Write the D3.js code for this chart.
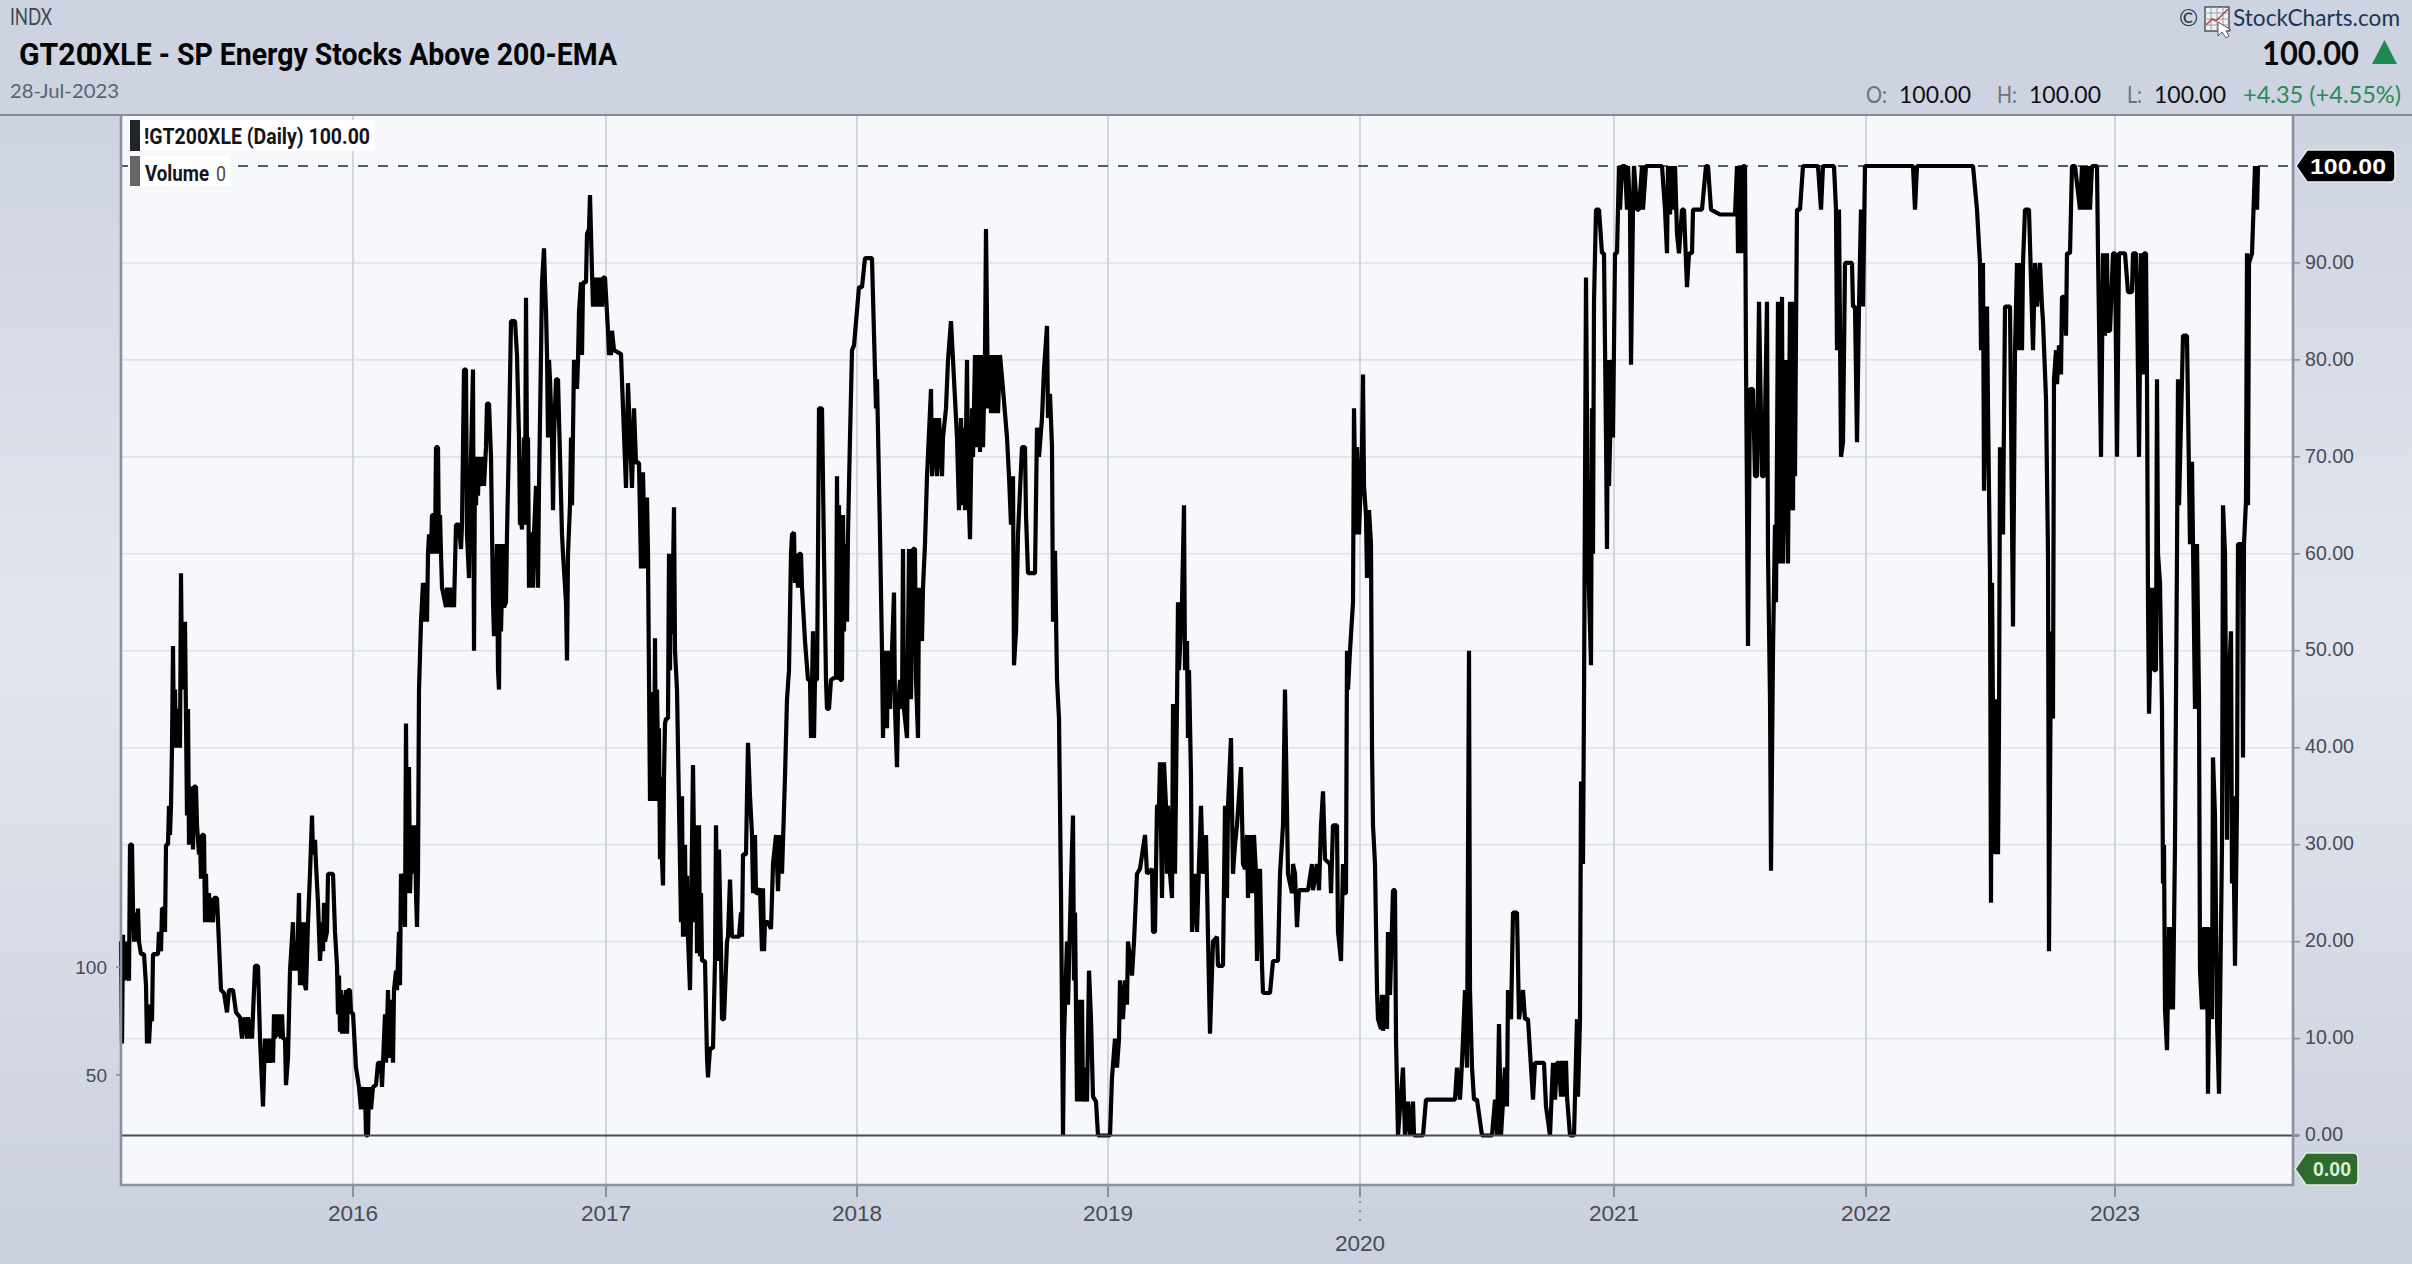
<!DOCTYPE html>
<html><head><meta charset="utf-8">
<script src="https://cdn.jsdelivr.net/npm/d3@7"></script>
<style>html,body{margin:0;padding:0;background:#cdd3e0}svg{display:block}</style>
</head><body><svg id="c" width="2412" height="1264"></svg>
<script>
// Trading-day index (1 bar per day from the first bar), percent above 200-EMA — flat [day, pct, ...]
const seg2015a=[0,20,1,9.5,2,20.7,3,16,5,20,6,16.4,8,16,9,30,11,30,12,23.4,13,20,14,23,16,20,17,23.4,18,20,20,18.7,23,18.7,25,15.5,26,9.5,27,13.5,28,9.5,30,13.5,31,11.8,32,18.7,35,18.7,37,18.7,38,21,40,19,41,23.4,43,23.4,44,21,45,30,47,30,48,34,49,31,50,34,51,40,52,50.5,53,40,54,46,55,40,56,44,57,40,58,44,59,40,60,58,61,47,62,53,63,46,64,53,66,33,67,44,68,30,69,36,70,30,71,36,72,29.5,73,36,75,36,76,32,78,29,79,31,80,26.5,81,31,83,31,84,22,85,27,86,22,88,25,89,22,90,24.5,92,22,93,24.5,96,24.5,100,15,103,14.7,106,12.7,108,15,112,15,115,12.7,119,12.2,121,10,122,12,124,12,126,10,127,12.2,129,10,130,12,131,10,133,15,134,17.5,137,17.5,139,10,142,3,144,10,146,7.5,147,10,149,7.5,151,10,152,7.5,153,12.5,154,10,155,12.5,157,10.2,158,12.5,160,10,161,12.5,162,10,164,10,165,5.2,167,8,169,17];
const seg2015b=[172,22,173,17,175,20,176,17,178,25,179,15.5,180,22,181,15.5,183,22,184,15.5,185,15,187,22,189,27,191,33,192,29,194,30.5,195,28,197,24,199,18,201,22,202,19,203,24,204,20,206,21,207,27,212,27,214,21,216,17.5,217,12.5,218,16.5,219,10.7,220,15,221,10.5,222,14.5,223,10.5,225,15,226,10.5,227,15,229,15,230,12.7,232,12.6,235,7,238,5,240,2.7,241,5,243,2.7,244,5,245,0,247,0,248,5,250,2.7,252,5,255,5.2,257,7.5,260,7.5,261,5,262,7.5,264,12.5,265,7.5,267,15,268,8,270,14,272,7.5,273,15,275,17,276,15,278,21,279,15.5,280,27,283,25,284,21.5,285,42.5,286,25,288,38,289,25,291,32,292,27,294,32,295,25,296,21.5,297,27,298,46,300,53,302,57,303,53,305,57,306,53,307,60,308,62,310,60,311,64,313,64,314,60,315,71,317,71,318,60,319,64,320,60,321,56.5,323,55.5,325,54.5,326,56.5,327,54.5,329,56.5,330,54.5,332,56,333,54.5,335,63,338,63,340,60.5,341,63,343,79,345,79,346,62,348,57.5,350,70,352,79,353,50,354,70,355,65,356,70,357,66,358,70,359,67,362,70,363,67,365,71,366,75.5,368,75.5,370,70,372,55,373,51.5,374,53,376,61,377,48,378,46,379,61,380,52,382,61,383,54.5,385,55,386,62,388,72,390,84,394,84,396,80.5,398,72,399,63,400,63.5,401,62.5,403,72,404,63,405,86.4,406,70,407,72,408,56.5,409,62,411,62,412,56.5,413,62,415,67,416,62,417,56.5,418,67,420,80.5,421,88,423,91.5,424,88,425,85,426,80.5,427,72,428,80,429,78,431,72,432,64.5,433,72,435,78,437,78,439,70,441,62,442,60,445,55,446,49,447,60,449,65,450,72,451,65,453,80,454,77,455,80,456,77,457,80,458,85,460,88,461,80.5,462,88,465,88,466,93,468,93.5,469,97,470,93,471,89,472,85.5,474,88.5,475,85.5,476,88,477,85.5,478,88.5,479,85.5,480,88.5,481,85.5,482,88.5,484,88.5,487,83,488,80.5,489,83,490,80.5,491,83,493,81];
const seg2017=[500,80.6,505,66.8,507,77.6,511,66.8,513,75,515,69.4,518,69.4,520,58.5,522,68.4,524,58.5,526,65.8,527,60,529,34.5,530,45.7,532,45,533,34.5,534,51.3,535,34.5,536,46,537,39,538,42,539,28.5,540,37,541,28.5,542,25.8,543,37,544,42.5,545,43,547,43,548,60,549,48,550,60,551,51.7,553,64.8,554,50,556,46,558,34,560,22,561,35,562,20.5,563,26,564,30,565,20.5,566,26.8,567,20.5,569,15,570,22,572,38.2,574,22,575,32,576,18.8,578,32,579,18.5,580,25,581,18,584,18,586,8,587,6,589,9,592,9,594,18,595,32,597,18,598,29.5,600,19,601,12,603,12,606,20,607,20.5,609,26.4,611,20.5,618,20.5,620,23,621,20.5,622,29,625,29,626,35,627,40.5,629,35,631,31,632,25,634,31,635,25,637,25,639,25.5,641,19,642,25.5,643,19,644,22,647,22,650,21.3,652,28,655,31,657,25.2,659,31,661,27,664,37,666,45,668,48,670,60,671,62,673,62.2,674,57,675,60,677,56.5,678,60,680,60,681,56.5,684,51,687,47,689,47,690,41,692,52,693,41,694,47,696,47,697,60,698,75,701,75,703,60,705,47,706,44,708,44,710,47,715,47.3,716,68,717,47,718,65,719,47,721,47,722,64,723,52,724,61,726,53,727,62,729,72,731,81,733,81.5];
const seg2018=[738,87.5,741,87.5,744,90.5,751,90.5,752,86.5,755,75,756,78,759,62,761,50,762,41,764,50,766,42,767,50,769,44,771,50,773,56,774,44,776,38,777,44,779,47,781,44,782,60.5,783,44,786,41,788,60.5,790,45,792,60.5,794,60.5,795,47,797,41,798,56.5,801,51,802,56.5,804,61,806,68,810,77,811,68,814,74,816,68,818,74,821,68,822,72,825,75,827,80,830,84,832,80,836,72,838,64.5,840,74,842,65,843,73,844,64.5,846,80,847,68,849,61.5,851,75,852,70,854,80.5,856,71,857,80.5,859,70.5,861,80.5,862,71,864,80.5,865,93.5,867,75,869,80.5,870,74.5,872,80.5,874,74.5,876,80.5,877,74.5,879,80.5,882,77,886,72,888,68,890,63,892,68,893,48.5,895,52,897,62,901,71,904,71,905,64,907,58,914,58,916,73,918,70,921,74,923,79,926,83.5,927,74,929,76.5,931,71,932,53,934,60.3,936,47,938,43,940,25,942,0,943,10,946,20,947,13.5,950,26,952,33,953,16,954,23,956,3.5,957,14,959,3.5,961,14,962,3.5,964,7,966,3.5,968,17,970,12,972,4,975,3.5,977,0];
const seg2019=[989,0,991,6,994,10,996,7,998,10,999,16,1002,12,1004,16,1006,13.5,1007,20,1011,16.5,1013,20,1016,27,1019,27.5,1024,31,1026,27,1031,27.5,1032,21,1034,21,1036,34,1038,34,1039,38.5,1041,24.5,1043,38.5,1045,34,1046,27,1047,34,1049,27,1051,24.5,1052,44.5,1054,27,1056,44.5,1057,55,1058,48,1061,55,1063,65,1064,48,1066,51,1067,41,1068,48,1070,37,1071,21,1074,27,1076,21,1078,28,1080,34,1082,27,1085,31,1086,26,1087,20.5,1089,10.5,1092,20,1096,20.5,1097,17.5,1102,17.5,1104,34,1106,24.5,1107,34,1110,41,1112,27,1114,30,1116,32,1120,38,1122,28,1124,27.5,1126,31,1127,24.5,1129,31,1131,25,1133,31,1135,27,1136,18,1139,27.5,1141,17.5,1142,14.7,1149,14.7,1152,18,1157,18,1159,27,1162,32,1164,46,1167,27,1171,25,1172,28,1174,27,1176,21.5,1178,25.3,1187,25.3,1191,28,1192,25.3,1196,28,1198,25.3,1200,32,1202,35.5,1204,28.5,1209,28,1210,25,1212,32,1216,32,1217,21,1220,18,1222,28,1223,25,1225,25,1226,50,1227,46,1229,50,1232,55,1233,75,1235,62,1236,71,1238,62,1241,71,1242,78.5,1243,67,1245,64,1246,57.5,1248,64.5,1250,61];
const seg2020=[1251,40,1252,32,1254,28,1256,15,1257,12,1260,11,1261,14.5,1262,10.8,1264,14.5,1266,11,1267,21,1269,14.5,1272,25.3,1274,25.3,1275,10,1277,0,1282,7,1284,0,1287,3.5,1289,0,1292,3.5,1293,0,1302,0,1305,3.7,1334,3.7,1336,7,1339,3.7,1341,7.5,1344,15,1346,7,1348,50,1349,15,1351,7,1353,3.7,1356,3.7,1361,0,1371,0,1374,3.7,1376,0,1378,11.5,1380,0,1384,7,1386,3,1387,15,1390,12,1392,23,1396,23,1398,12,1402,15,1404,12,1407,12,1412,3.7,1414,7.5,1419,7.5,1423,7.5,1425,3,1429,0,1432,7.5,1434,3.7,1436,7.5,1438,7.5,1440,4,1441,7.7,1443,4,1445,7.7,1446,4,1449,0,1453,0,1456,12,1457,4,1459,12,1460,36.5,1462,28,1463,45,1465,88.5,1467,60,1470,48.5,1471,75,1472,60,1473,86,1475,95.5,1478,95.5,1481,91,1483,91,1485,72,1486,60.5,1487,80,1488,67,1491,80,1492,72];
const seg2021=[1494,91,1496,91,1498,100,1499,95.5,1501,100,1504,100,1506,95.5,1507,100,1509,95.5,1510,79.5,1512,95.5,1513,100,1516,95.5,1518,95.5,1521,100,1522,95.5,1525,100,1541,100,1544,95.5,1546,91,1547,100,1549,95,1551,100,1553,95.5,1554,100,1556,93,1558,91,1561,95.5,1563,95.5,1566,87.5,1568,91,1571,91,1572,95.5,1581,95.5,1585,100,1587,100,1590,95.5,1599,95,1614,95,1616,100,1617,91,1619,100,1621,91,1622,100,1624,100,1625,80,1627,50.5,1629,77,1632,77,1634,68,1636,68,1638,86,1641,68,1643,68,1646,86,1647,60,1649,45,1650,27.3,1652,50,1654,63,1655,55,1657,86,1659,59,1661,86.5,1662,59,1665,80,1667,59,1669,86,1671,65,1672,64.5,1673,86,1674,68,1675,83,1676,95.5,1679,95.5,1682,100,1697,100,1700,95.5,1702,100,1713,100,1715,95.5,1716,81,1718,95.5,1720,70,1722,71.5,1724,90,1731,90,1732,85.5,1734,85.5,1736,71.5,1738,85.5,1740,95.5,1742,85.5];
const seg2022=[1744,100,1792,100,1794,95.5,1796,100,1852,100,1856,95.5,1859,90,1860,81,1862,90,1863,66.5,1866,85.5,1867,75,1869,58,1870,24,1871,57,1873,29,1874,45,1875,29,1876,43,1877,29,1878,42,1879,71,1882,62,1884,85.5,1889,85.5,1892,52.5,1894,81,1896,90,1897,81,1899,90,1901,81,1902,90,1904,95.5,1908,95.5,1912,81,1914,90,1916,85.5,1919,90,1921,85.5,1922,84,1925,76,1927,60,1928,19,1930,52,1932,43,1933,78,1935,81,1936,77.5,1938,81.5,1940,78.5,1941,86.5,1944,86.5,1945,82.5,1946,91,1949,91,1951,100,1954,100,1959,95.5,1961,100,1962,95.5,1964,100,1966,95.5,1967,100,1969,95.5,1971,100,1976,100,1977,91,1980,70,1982,91,1984,82.5,1986,91,1987,83,1989,83,1992,91];
const seg2023=[1994,91,1996,70,1998,91,2004,91,2007,87,2011,87,2012,91,2015,91,2016,87,2018,70,2020,91,2021,81,2022,78.5,2023,91,2025,91,2026,78,2027,55,2028,43.5,2031,56.5,2033,48,2035,48,2036,78,2037,60,2039,57,2041,44,2042,26,2043,30,2044,13,2046,8.8,2048,21.5,2049,13,2051,21.5,2052,13,2054,30,2056,60,2057,78,2058,65,2061,78,2062,82.5,2066,82.5,2069,61,2071,69.5,2072,61,2073,52,2074,44,2076,61,2078,45,2079,17,2081,13,2082,21.5,2084,13,2086,21.5,2087,4.3,2089,21.5,2091,12,2092,39,2094,33,2096,12,2098,4.3,2101,30,2102,65,2104,60,2106,30.5,2107,45,2110,52,2111,26,2112,35,2114,17.5,2116,34,2117,61,2121,61,2122,39,2123,61,2125,65.5,2126,91,2127,65,2128,90,2131,91,2134,100,2136,95.5,2137,100];

const yearLabels=["2016","2017","2018","2019","2020","2021","2022","2023"];
const yearDays=[232,485,736,987,1239,1493,1745,1994];
const pctTicks=[0,10,20,30,40,50,60,70,80,90];
const volumeTicks=[50,100];
const lastClose=100;
const ohlcLabels=["O:","H:","L:"];
const ohlcValues=["100.00","100.00","100.00"];

const segments=[seg2015a,seg2015b,seg2017,seg2018,seg2019,seg2020,seg2021,seg2022,seg2023];
const series=[];
segments.forEach(s=>{for(let i=0;i<s.length;i+=2)series.push([s[i],s[i+1]]);});

const W=2412,H=1264,L=121,R=2293,T=116,B=1185;
const x=d3.scaleLinear().domain([0,2172]).range([L,R]);
const y=d3.scaleLinear().domain([0,100]).range([1135.5,166]);
// The overlaid volume scale on the left axis
const yVol=d3.scaleLinear().domain([50,100]).range([1075,967]);

const svg=d3.select("#c");
const defs=svg.append("defs");
const bg=defs.append("linearGradient").attr("id","bg").attr("x1",0).attr("x2",0).attr("y1",0).attr("y2",1);
[[0,"#cdd3e0"],[0.09,"#cdd3e0"],[0.5,"#e3e6ee"],[1,"#cad0dd"]].forEach(([o,c])=>bg.append("stop").attr("offset",o).attr("stop-color",c));
defs.append("filter").attr("id","soft").attr("x","-1%").attr("y","-1%").attr("width","102%").attr("height","102%").append("feGaussianBlur").attr("stdDeviation",0.45);
svg.append("rect").attr("width",W).attr("height",H).attr("fill","url(#bg)");
svg.append("rect").attr("width",W).attr("height",T).attr("fill","#cdd3e0");
svg.append("rect").attr("x",L).attr("y",T).attr("width",R-L).attr("height",B-T).attr("fill","#f6f8fc");

// grid
const grid=svg.append("g");
grid.selectAll("line.h").data(pctTicks.filter(d=>d>0)).join("line").attr("class","h")
 .attr("x1",L).attr("x2",R).attr("y1",d=>y(d)).attr("y2",d=>y(d)).attr("stroke","#dfe2e8").attr("stroke-width",1.6);
grid.selectAll("line.v").data(yearDays).join("line").attr("class","v")
 .attr("x1",d=>x(d)).attr("x2",d=>x(d)).attr("y1",T).attr("y2",B).attr("stroke","#d3d6de").attr("stroke-width",2);
svg.append("line").attr("x1",L).attr("x2",R).attr("y1",166).attr("y2",166).attr("stroke","#555b66").attr("stroke-width",1.8).attr("stroke-dasharray","10 10").attr("stroke-dashoffset",3);

// line
const line=d3.line().x(d=>x(d[0])).y(d=>y(d[1]));
svg.append("path").attr("d",line(series)).attr("fill","none").attr("stroke","#050505").attr("stroke-width",4.2).attr("stroke-linejoin","bevel").attr("filter","url(#soft)");

// zero line + frame
svg.append("line").attr("x1",L).attr("x2",R+6).attr("y1",y(0)).attr("y2",y(0)).attr("stroke","#474c58").attr("stroke-width",2.2);
const frame="#8b90a2";
svg.append("path").attr("d",`M${L} ${T}V${B}H${R}V${T}`).attr("fill","none").attr("stroke",frame).attr("stroke-width",2.6);
svg.append("line").attr("x1",0).attr("x2",W).attr("y1",115).attr("y2",115).attr("stroke","#868b97").attr("stroke-width",2.2);

const axisColor="#474c58";
const font="'Liberation Sans',Arial,sans-serif";
// right axis
const right=svg.append("g").attr("font-family",font).attr("font-size",20).attr("fill",axisColor);
right.selectAll("text").data(pctTicks).join("text").attr("x",2305).attr("y",d=>y(d)-1.5).attr("dy",".36em").attr("textLength",d=>d===0?38:49).attr("lengthAdjust","spacingAndGlyphs").text(d=>d.toFixed(2));
svg.append("g").selectAll("line").data(pctTicks).join("line").attr("x1",R).attr("x2",R+7).attr("y1",d=>y(d)).attr("y2",d=>y(d)).attr("stroke",frame).attr("stroke-width",1.6);
// left volume axis
const left=svg.append("g").attr("font-family",font).attr("font-size",19).attr("fill",axisColor);
left.selectAll("text").data(volumeTicks).join("text").attr("x",107).attr("text-anchor","end").attr("y",d=>yVol(d)).attr("dy",".36em").text(d=>d);
svg.append("g").selectAll("line").data(volumeTicks).join("line").attr("x1",L-5).attr("x2",L).attr("y1",d=>yVol(d)).attr("y2",d=>yVol(d)).attr("stroke",frame).attr("stroke-width",1.6);
// x axis
const xg=svg.append("g").attr("font-family",font).attr("font-size",22.5).attr("fill",axisColor);
xg.selectAll("text").data(yearLabels).join("text").attr("text-anchor","middle")
 .attr("x",(d,i)=>x(yearDays[i])).attr("y",d=>d==="2020"?1251:1221).text(d=>d);
svg.append("g").selectAll("line").data(yearDays).join("line").attr("x1",d=>x(d)).attr("x2",d=>x(d)).attr("y1",B).attr("y2",B+12).attr("stroke",frame).attr("stroke-width",2);
svg.append("line").attr("x1",x(1239)).attr("x2",x(1239)).attr("y1",1201).attr("y2",1226).attr("stroke","#8b90a2").attr("stroke-width",2.2).attr("stroke-dasharray","2 7");

// header
const lato="Lato,'Open Sans',sans-serif";
function txt(s,xp,yp,size,fill,opt={}){
  const t=svg.append("text").attr("x",xp).attr("y",yp).attr("font-size",size).attr("fill",fill).attr("font-family",opt.family||lato).attr("font-weight",opt.weight||400).text(s);
  if(opt.len)t.attr("textLength",opt.len).attr("lengthAdjust","spacingAndGlyphs");
  if(opt.anchor)t.attr("text-anchor",opt.anchor);
  return t;
}
txt("INDX",10,25,23,"#3e4450",{len:42});
txt("28-Jul-2023",10,98,20,"#5b6270",{len:109});
const rob="Roboto,'Liberation Sans',sans-serif";
txt("GT20",19,65,32,"#040404",{family:rob,weight:700,len:74});
txt("0XLE - SP Energy Stocks Above 200-EMA",86,65,32,"#040404",{family:rob,weight:700,len:531});
// legend
svg.append("rect").attr("x",140).attr("y",120).attr("width",235).attr("height",31).attr("fill","#fff");
svg.append("rect").attr("x",130).attr("y",120).attr("width",10).attr("height",31).attr("fill","#22242c");
svg.append("rect").attr("x",140).attr("y",156).attr("width",90).attr("height",30).attr("fill","#fff");
svg.append("rect").attr("x",130).attr("y",156).attr("width",10).attr("height",30).attr("fill","#666");
txt("!GT200XLE (Daily) 100.00",144,144,22,"#141519",{family:rob,weight:700,len:226});
txt("Volume",145,181,22,"#141519",{family:rob,weight:700,len:64});
txt("0",216,181,21,"#4a4a4a",{family:rob,len:10});
// logo
txt("©",2179,26,23,"#24364f");
const logo=svg.append("g");
logo.append("rect").attr("x",2205).attr("y",7).attr("width",24).attr("height",24).attr("fill","#eef0f3").attr("stroke","#4d5560").attr("stroke-width",1.5);
[2211,2217,2223].forEach(v=>logo.append("line").attr("x1",v).attr("x2",v).attr("y1",7).attr("y2",31).attr("stroke","#9aa0aa"));
[13,19,25].forEach(v=>logo.append("line").attr("x1",2205).attr("x2",2229).attr("y1",v).attr("y2",v).attr("stroke","#9aa0aa"));
logo.append("path").attr("d","M2206 25L2212 19L2216 21L2228 9").attr("fill","none").attr("stroke","#b33a3a").attr("stroke-width",1.4);
logo.append("path").attr("d","M2218 22L2218 36L2222 32L2226 38L2229 36L2226 31L2231 30Z").attr("fill","#fff").attr("stroke","#555").attr("stroke-width",1);
txt("StockCharts.com",2233,26,24,"#1c3557",{len:167});
txt(lastClose.toFixed(2),2262,65,32,"#0b0b0b",{weight:700,len:97});
svg.append("path").attr("d","M2372 64L2397 64L2384.5 40Z").attr("fill","#1f8a50");
[[1866,1887,1899],[1997,2017,2029],[2127,2142,2154]].forEach((p,i)=>{
  txt(ohlcLabels[i],p[0],103,23,"#6b7280",{len:p[1]-p[0]});
  txt(ohlcValues[i],p[2],103,24,"#0f0f0f",{len:72});
});
txt("+4.35 (+4.55%)",2243,103,24,"#2c8a57",{len:158});
// tags
function tag(x0,x1,y0,y1,fill,stroke){
  const m=(y0+y1)/2;
  svg.append("path").attr("d",`M${x0} ${m}L${x0+11} ${y0}H${x1-5}Q${x1} ${y0} ${x1} ${y0+5}V${y1-5}Q${x1} ${y1} ${x1-5} ${y1}H${x0+11}Z`).attr("fill",fill).attr("stroke",stroke).attr("stroke-width",1.6);
}
tag(2296,2395,150,182,"#000","#e8eaf0");
txt(lastClose.toFixed(2),2310,174,21.5,"#fff",{family:font,weight:700,len:76});
tag(2295,2358,1153,1185,"#2f6b2f","#dfeedd");
txt("0.00",2313,1176,20,"#d9efd8",{family:font,weight:700,len:38});
</script></body></html>
